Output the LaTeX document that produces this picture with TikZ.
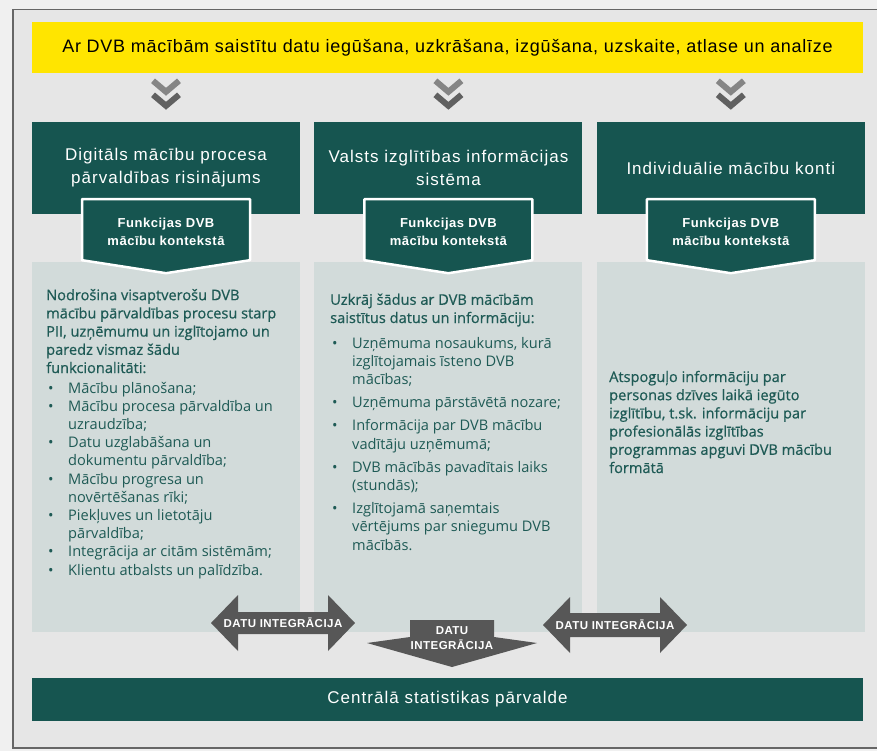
\documentclass[tikz,border=0pt]{standalone}
\usepackage{fontspec}
\setmainfont{Open Sans}
\newfontfamily\bannerfont{Liberation Sans}[LetterSpace=4]
\newfontfamily\headfont{Liberation Sans}[LetterSpace=6]
\newfontfamily\tabfont{Liberation Sans}[LetterSpace=4]
\newfontfamily\medfont{Open Sans}[FakeBold=0.6]
\usetikzlibrary{arrows}
\usetikzlibrary{positioning}
\usetikzlibrary{calc}
\definecolor{tealbox}{HTML}{165550}
\definecolor{paneltext}{HTML}{1E5A55}
\definecolor{panelgray}{HTML}{D2DBDA}
\definecolor{framegray}{HTML}{E6E6E6}
\definecolor{outergray}{HTML}{F0F0F0}
\definecolor{banneryellow}{HTML}{FFE500}
\definecolor{flowgray}{HTML}{575757}
\definecolor{chevlight}{HTML}{858585}
\definecolor{chevdark}{HTML}{606060}
\newcommand{\bul}{\makebox[20pt][l]{\textbullet}}
\newcommand{\ind}{\hspace*{20pt}}

\begin{document}
\begin{tikzpicture}
  [x=1pt,y=-1pt,node distance=48pt and 14pt,
   banner box/.style={rectangle,fill=banneryellow,minimum width=831pt,minimum height=51pt,inner sep=0pt,font=\bannerfont\fontsize{18}{22}\selectfont},
   head box/.style={rectangle,fill=tealbox,text=white,align=center,minimum width=268pt,minimum height=92pt,inner sep=0pt,font=\headfont\fontsize{17}{23}\selectfont},
   panel box/.style={rectangle,fill=panelgray,minimum width=268pt,minimum height=370pt,inner sep=0pt},
   tab shape/.style={fill=tealbox,draw=white,line width=2.5pt,line join=round},
   tab text/.style={text=white,align=center,inner sep=0pt,font=\tabfont\bfseries\fontsize{13}{18}\selectfont},
   intro text/.style={text=paneltext,align=left,inner sep=0pt,anchor=base west,font=\medfont\fontsize{14.6}{18.2}\selectfont},
   list text/.style={text=paneltext,align=left,inner sep=0pt,anchor=base west,font=\fontsize{14.6}{18.2}\selectfont},
   chevron/.style={line width=6pt,miter limit=10},
   flow shape/.style={fill=flowgray},
   flow text/.style={text=white,align=center,inner sep=0pt,font=\tabfont\bfseries\fontsize{11.5}{14.5}\selectfont}]

  \fill[outergray] (0,0) rectangle (877,751);
  \useasboundingbox (0,0) rectangle (877,751);
  \fill[framegray] (13,9.5) rectangle (877,748);
  \draw[gray!80!black,line width=1.5pt] (877,9.5) -- (13,9.5) -- (13,748) -- (877,748);

  \node[banner box]  (Banner)      at (447.5,47.5)              {Ar DVB mācībām saistītu datu iegūšana, uzkrāšana, izgūšana, uzskaite, atlase un analīze};
  \node[head box]    (DigitalBox)  at (166,168)                 {Digitāls mācību procesa\\pārvaldības risinājums};
  \node[head box]    (StateBox)    [right= of DigitalBox]       {Valsts izglītības informācijas\\sistēma};
  \node[head box]    (KontiBox)    [right= of StateBox]         {Individuālie mācību konti};
  \node[panel box]   (DigitalPanel) [below= of DigitalBox]      {};
  \node[panel box]   (StatePanel)   [below= of StateBox]        {};
  \node[panel box]   (KontiPanel)   [below= of KontiBox]        {};

  \foreach \b/\t in {DigitalBox/DigitalTab,StateBox/StateTab,KontiBox/KontiTab} {
    \draw[chevron,draw=chevlight] ($(\b.north)+(-13,-41)$) -- ($(\b.north)+(0,-30)$) -- ($(\b.north)+(13,-41)$);
    \draw[chevron,draw=chevdark]  ($(\b.north)+(-13,-27)$) -- ($(\b.north)+(0,-16)$) -- ($(\b.north)+(13,-27)$);
    \draw[tab shape] ($(\b.south)+(-84,-15)$) -- ++(168,0) -- ++(0,61) -- ($(\b.south)+(0,59)$) -- ($(\b.south)+(-84,46)$) -- cycle;
    \node[tab text] (\t) at ($(\b.south)+(0,18)$) {Funkcijas DVB\\mācību kontekstā};
  }

  \node[intro text]  (DigitalIntro) at (46,373)   {Nodrošina visaptverošu DVB\\mācību pārvaldības procesu starp\\PII, uzņēmumu un izglītojamo un\\paredz vismaz šādu\\funkcionalitāti:};
  \node[list text]   (DigitalList)  at (48,575)   {\bul Mācību plānošana;\\\bul Mācību procesa pārvaldība un\\\ind uzraudzība;\\\bul Datu uzglabāšana un\\\ind dokumentu pārvaldība;\\\bul Mācību progresa un\\\ind novērtēšanas rīki;\\\bul Piekļuves un lietotāju\\\ind pārvaldība;\\\bul Integrācija ar citām sistēmām;\\\bul Klientu atbalsts un palīdzība.};
  \node[intro text]  (StateIntro)   at (330,323)  {Uzkrāj šādus ar DVB mācībām\\saistītus datus un informāciju:};
  \node[list text]   (StateList)    at (332,550)  {\bul Uzņēmuma nosaukums, kurā\\\ind izglītojamais īsteno DVB\\\ind mācības;\\[5pt]\bul Uzņēmuma pārstāvētā nozare;\\[5pt]\bul Informācija par DVB mācību\\\ind vadītāju uzņēmumā;\\[5pt]\bul DVB mācībās pavadītais laiks\\\ind (stundās);\\[5pt]\bul Izglītojamā saņemtais\\\ind vērtējums par sniegumu DVB\\\ind mācībās.};
  \node[intro text]  (KontiIntro)   at (609,473)  {Atspoguļo informāciju par\\personas dzīves laikā iegūto\\izglītību, t.sk. informāciju par\\profesionālās izglītības\\programmas apguvi DVB mācību\\formātā};

  \coordinate (LeftFlowC)  at (283,623);
  \coordinate (RightFlowC) at (615,625);
  \coordinate (DownFlowC)  at (452,638);
  \fill[flow shape,shift={(LeftFlowC)}]  (-72,0) -- (-45,-28) -- (-45,-11) -- (45,-11) -- (45,-28) -- (72,0) -- (45,28) -- (45,11) -- (-45,11) -- (-45,28) -- cycle;
  \fill[flow shape,shift={(RightFlowC)}] (-72,0) -- (-45,-28) -- (-45,-12) -- (45,-12) -- (45,-28) -- (72,0) -- (45,28) -- (45,12) -- (-45,12) -- (-45,28) -- cycle;
  \fill[flow shape,shift={(DownFlowC)}]  (-42,-18) -- (42,-18) -- (42,-1) -- (85,5) -- (0,29) -- (-85,5) -- (-42,-1) -- cycle;
  \node[flow text]   (LeftFlow)     at (LeftFlowC)  {DATU INTEGRĀCIJA};
  \node[flow text]   (RightFlow)    at (RightFlowC) {DATU INTEGRĀCIJA};
  \node[flow text]   (DownFlow)     at (DownFlowC)  {DATU\\INTEGRĀCIJA};

  \node[head box,minimum width=831pt,minimum height=43pt] (CentralBox) at (447.5,699.5) {Centrālā statistikas pārvalde};
\end{tikzpicture}
\end{document}
